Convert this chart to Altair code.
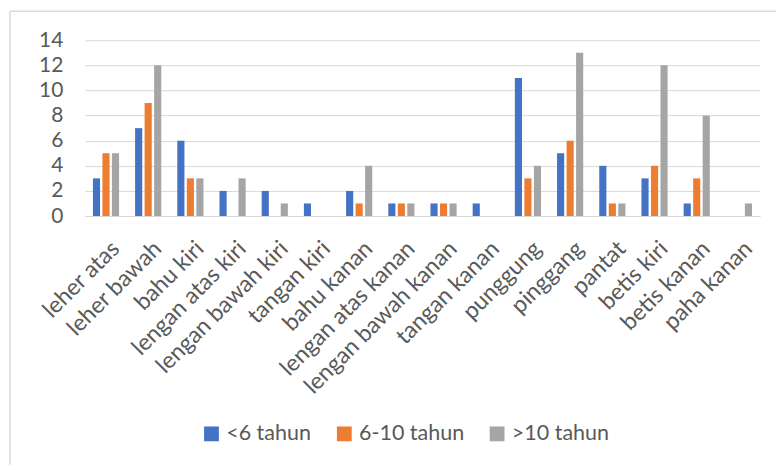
import altair as alt
import pandas as pd

categories = ["leher atas", "leher bawah", "bahu kiri", "lengan atas kiri", "lengan bawah kiri",
              "tangan kiri", "bahu kanan", "lengan atas kanan", "lengan bawah kanan", "tangan kanan",
              "punggung", "pinggang", "pantat", "betis kiri", "betis kanan", "paha kanan"]
series_names = ["<6 tahun", "6-10 tahun", ">10 tahun"]
under6 = [3, 7, 6, 2, 2, 1, 2, 1, 1, 1, 11, 5, 4, 3, 1, 0]
six_to_ten = [5, 9, 3, 0, 0, 0, 1, 1, 1, 0, 3, 6, 1, 4, 3, 0]
over10 = [5, 12, 3, 3, 1, 0, 4, 1, 1, 0, 4, 13, 1, 12, 8, 1]
colors = ["#4472C4", "#ED7D31", "#A5A5A5"]

rows = []
for i, c in enumerate(categories):
    for s, vals in zip(series_names, [under6, six_to_ten, over10]):
        rows.append({"cat": c, "series": s, "value": vals[i]})
df = pd.DataFrame(rows)

FONT = "Lato"
W, H = 676, 176

bars = alt.Chart(df).mark_bar().encode(
    x=alt.X("cat:N", sort=categories, title=None,
            scale=alt.Scale(paddingInner=0.38, paddingOuter=0.19),
            axis=alt.Axis(labelAngle=-45, labelFontSize=23, labelColor="#595959",
                          labelFont=FONT, ticks=False, domainColor="#D9D9D9",
                          labelPadding=21, labelOffset=2, labelLimit=400)),
    xOffset=alt.XOffset("series:N", sort=series_names,
                        scale=alt.Scale(paddingInner=0.25, paddingOuter=0)),
    y=alt.Y("value:Q", title=None,
            scale=alt.Scale(domain=[0, 14], nice=False),
            axis=alt.Axis(values=[0, 2, 4, 6, 8, 10, 12, 14], domain=False, ticks=False,
                          gridColor="#D9D9D9", labelFontSize=21, labelColor="#595959",
                          labelFont=FONT, labelPadding=22)),
    color=alt.Color("series:N", sort=series_names,
                    scale=alt.Scale(domain=series_names, range=colors),
                    legend=alt.Legend(title=None, orient="none", direction="horizontal",
                                      legendX=116, legendY=383, symbolType="square",
                                      symbolSize=220, symbolStrokeWidth=0,
                                      labelFontSize=21.5, labelFont=FONT, labelColor="#595959",
                                      columnPadding=22, labelOffset=4)),
)

frame_top = alt.Chart(pd.DataFrame({"a": [0]})).mark_rule(color="#D9D9D9", strokeWidth=1.5).encode(
    x=alt.value(-75), x2=alt.value(692), y=alt.value(-29))
frame_left = alt.Chart(pd.DataFrame({"a": [0]})).mark_rule(color="#D9D9D9", strokeWidth=1.5).encode(
    x=alt.value(-75), y=alt.value(-29), y2=alt.value(425))

chart = alt.layer(bars, frame_top, frame_left).properties(
    width=W, height=H,
    padding={"left": 9, "top": 10, "right": 0, "bottom": 0},
).configure_view(stroke=None).configure_axis(grid=True).configure_axisX(grid=False)

chart.save("out.html", embed_options={"renderer": "svg", "actions": False})
